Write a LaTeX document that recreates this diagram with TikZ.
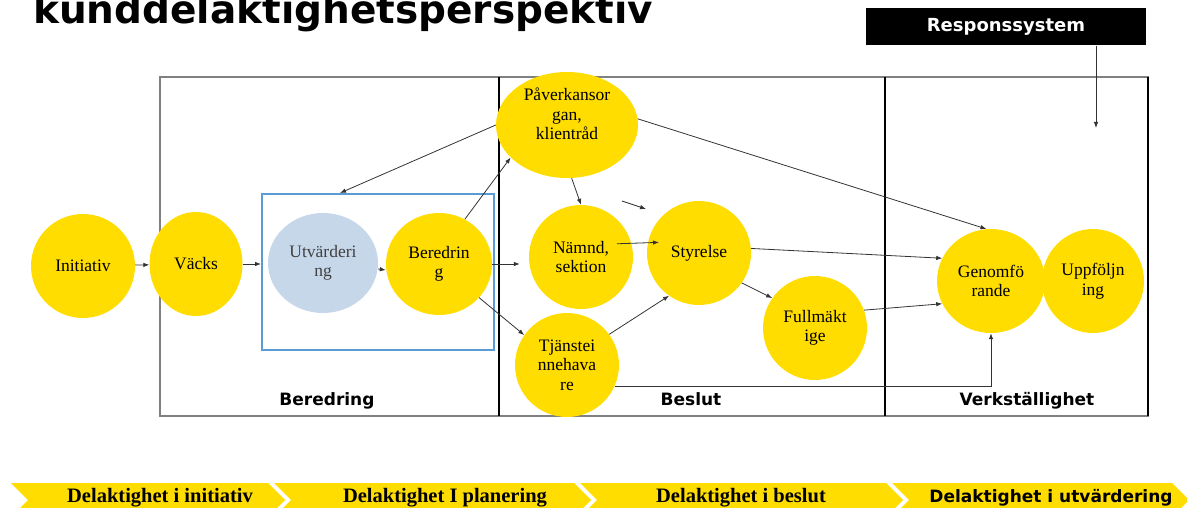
\documentclass[tikz,border=0pt]{standalone}
\usepackage{fontspec}
\setmainfont{Liberation Serif}
\newfontfamily\headsans{DejaVu Sans}
\usetikzlibrary{shapes.geometric,arrows.meta,positioning}
\definecolor{bubble}{HTML}{FFDD00}
\definecolor{paleblue}{HTML}{C7D7EA}
\definecolor{boxblue}{HTML}{5B9BD5}

\begin{document}
\begin{tikzpicture}[x=1pt,y=-1pt,
    bubble/.style={ellipse, fill=bubble, inner sep=0pt, minimum width=104pt, minimum height=104pt, align=center, font=\fontsize{17.5}{19.5}\selectfont},
    bubbletext/.style={align=center, inner sep=0pt, font=\fontsize{17.5}{19.5}\selectfont},
    conn/.style={draw=black!80, line width=0.8pt, -{Latex[length=6pt,width=4.5pt]}},
    phase/.style={anchor=base, inner sep=0pt, font=\headsans\bfseries\fontsize{17}{20}\selectfont},
    chevron/.style={fill=bubble, draw=none},
    chevtext/.style={anchor=base, inner sep=0pt, font=\bfseries\fontsize{20.5}{22}\selectfont}]

    \useasboundingbox (0,0) rectangle (1187,508);

    % Title
    \node[anchor=base west, inner sep=0pt, font=\headsans\bfseries\fontsize{39}{44}\selectfont] (title) at (33,24) {kunddelaktighetsperspektiv};

    % Response system
    \node[fill=black, text=white, minimum width=280pt, minimum height=37pt, inner sep=0pt, font=\headsans\bfseries\fontsize{18}{20}\selectfont] (resp) at (1006,27) {Responssystem};
    \coordinate (respin) at (1096,128);

    % Phase frames
    \draw[gray, line width=2.5pt] (160,77) rectangle (1148,416);
    \draw[black, line width=1.5pt] (499,77) -- (499,416) (885,77) -- (885,416) (1148,77) -- (1148,416);
    \node[phase] (lblbered) at (327,405) {Beredring};
    \node[phase] (lblbeslut) at (691,405) {Beslut};
    \node[phase] (lblverk) at (1027,405) {Verkställighet};

    % Evaluation box
    \node[draw=boxblue, line width=2pt, minimum width=232pt, minimum height=156pt, inner sep=0pt] (uvbox) at (378,272) {};

    % Bubbles
    \node[bubble] (init) at (83,266) {Initiativ};
    \node[bubble, minimum width=93pt] (vacks) at (196,264) {Väcks};
    \node[bubble, fill=paleblue, text=black!75, minimum width=110pt, minimum height=100pt] (utv) at (323,263) {Utvärderi\\ng};
    \node[bubble, minimum width=106pt, minimum height=102pt] (bered) at (439,264) {Beredrin\\g};
    \node[bubble, minimum width=142pt, minimum height=106pt, label={[bubbletext, yshift=11pt]center:{Påverkansor\\gan,\\klientråd}}] (pav) at (567,125) {};
    \node[bubble] (namnd) at (581,257) {Nämnd,\\sektion};
    \node[bubble] (styr) at (699,253) {Styrelse};
    \node[bubble] (tjan) at (567,365) {Tjänstei\\nnehava\\re};
    \node[bubble] (fullm) at (815,328) {Fullmäkt\\ige};
    \node[bubble, minimum width=108pt] (genom) at (991,281) {Genomfö\\rande};
    \node[bubble, minimum width=102pt] (uppf) at (1093,281) {Uppföljn\\ing};

    % Connectors
    \draw[conn] (init) -- (vacks);
    \draw[conn] (vacks.east) -- (vacks.east -| uvbox.west);
    \draw[conn] ([yshift=-6pt]utv.east) -- ([yshift=-6pt]bered.west);
    \draw[conn, shorten >=9pt] (bered.east) -- (bered.east -| namnd.west);
    \draw[conn] (bered.60) -- (pav.210);
    \draw[conn] (bered.-40) -- (tjan.145);
    \draw[conn] (pav.west) -- ([xshift=-38pt]uvbox.north);
    \draw[conn] (pav.-85) -- (namnd.north);
    \coordinate (strayA) at (622,201);
    \coordinate (strayB) at (646,209);
    \draw[conn] (strayA) -- (strayB);
    \draw[conn, shorten <=36pt, shorten >=40pt] ([yshift=12pt]namnd.center) -- ([yshift=12pt]styr.center);
    \draw[conn] (tjan.36) -- (styr.235);
    \draw[conn] (styr.-35) -- (fullm.145);
    \draw[conn] (pav.5) -- (genom.95);
    \draw[conn] (styr.5) -- (genom.155);
    \draw[conn] (fullm.20) -- (genom.205);
    \draw[conn] (tjan.-24) -| (genom.south);
    \draw[conn] (resp.south -| respin) -- (respin);

    % Participation chevrons
    \foreach \l/\r in {11/268, 274/574, 580/886, 892/1172}
        \fill[chevron] (\l,483) -- (\r,483) -- (\r+17,500) -- (\r,517) -- (\l,517) -- (\l+17,500) -- cycle;
    \node[chevtext] (dinit) at (160,502) {Delaktighet i initiativ};
    \node[chevtext] (dplan) at (445,502) {Delaktighet I planering};
    \node[chevtext] (dbesl) at (741,502) {Delaktighet i beslut};
    \node[phase] (dutv) at (1051,502) {Delaktighet i utvärdering};
\end{tikzpicture}
\end{document}
